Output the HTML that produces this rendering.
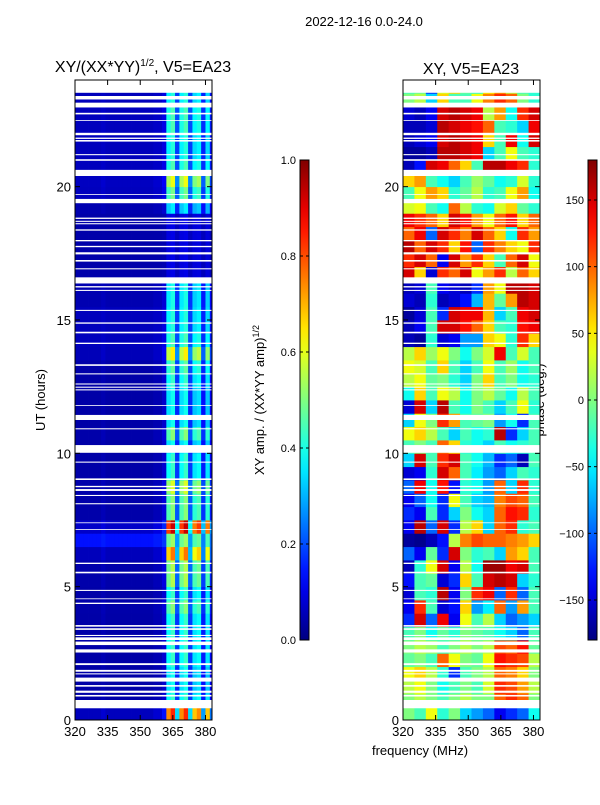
<!DOCTYPE html>
<html><head><meta charset="utf-8"><style>
body{margin:0;background:#fff;}
svg text{font-family:"Liberation Sans",sans-serif;}
</style></head><body>
<svg id="fig" width="600" height="800" xmlns="http://www.w3.org/2000/svg">
<rect x="0" y="0" width="600" height="800" fill="#fff"/>
<text x="364" y="26" font-size="13" text-anchor="middle">2022-12-16 0.0-24.0</text>
<text x="143" y="72" font-size="16" text-anchor="middle">XY/(XX*YY)<tspan font-size="10" dy="-6">1/2</tspan><tspan dy="6">, V5=EA23</tspan></text>
<text x="471" y="74" font-size="16" text-anchor="middle">XY, V5=EA23</text>
<text x="420" y="755" font-size="13" text-anchor="middle">frequency (MHz)</text>
<text transform="translate(45,400) rotate(-90)" font-size="13" text-anchor="middle">UT (hours)</text>
<text transform="translate(264,400) rotate(-90)" font-size="13" text-anchor="middle">XY amp. / (XX*YY amp)<tspan font-size="9" dy="-5">1/2</tspan></text>
<text transform="translate(544,400) rotate(-90)" font-size="13" text-anchor="middle">phase (deg.)</text>
<g id="left"></g><g id="right"></g><g id="cbars"></g>
</svg>
<script>
const freqTicks=[320,335,350,365,380];
const hourTicks=[0,5,10,15,20];
const ampTicks=[0.0,0.2,0.4,0.6,0.8,1.0];
const phaseTicks=[-150,-100,-50,0,50,100,150];
// left amplitude: column profile per 2 MHz bin from 320
const colProfile=[0.01,0.01,0.01,0.01,0.01,0.01,0.02,0.01,0.01,0.01,0.01,0.01,0.01,0.01,0.01,0.01,0.01,0.01,0.02,0.02,0.05,0.35,0.4,0.15,0.35,0.4,0.15,0.32,0.35,0.12,0.32,0.1];
// per 0.5 h row (from 0 h upward)
const rowAmp=[2.0,1.0,0.9,0.9,1.0,1.0,1.0,1.0,1.2,1.0,1.3,1.3,1.8,1.0,2.2,1.2,1.2,1.4,1.0,1.0,0.9,1.2,0.9,0.9,0.9,1.0,1.1,1.5,1.0,0.9,0.9,0.9,0.9,0.15,0.15,0.15,0.15,0.15,0.8,1.1,1.4,1.0,0.9,0.9,1.0,1.0,0.9,0.9];
const rowBase=[0.04,0.03,0.03,0.03,0.03,0.03,0.03,0.03,0.03,0.03,0.03,0.03,0.04,0.13,0.05,0.03,0.03,0.03,0.03,0.03,0.03,0.03,0.03,0.03,0.03,0.03,0.03,0.04,0.05,0.05,0.05,0.04,0.04,0.04,0.04,0.04,0.04,0.04,0.04,0.05,0.05,0.05,0.05,0.05,0.05,0.05,0.05,0.05];
// right phase grid: 48 rows (0.5 h) x 12 cols (~5.25 MHz)
const phaseRows=[
[0,-20,40,-30,0,-60,-80,-100,-140,-120,-100,-40],
[0,20,0,-20,0,20,0,0,100,120,100,0],
[20,40,0,-40,-20,0,-20,30,120,110,80,20],
[40,60,20,-30,-120,-20,0,20,100,90,60,0],
[-10,0,-20,100,40,0,-10,40,130,120,110,20],
[0,20,10,-20,0,20,0,20,110,100,130,-10],
[-20,0,-40,-10,-30,0,-10,-20,-40,-60,-100,-20],
[-120,150,-100,140,-140,40,-20,20,-60,-100,-80,-60],
[-140,120,-20,-150,-130,60,-80,-50,100,-80,80,-20],
[-150,-20,-30,160,-140,0,120,140,-100,120,-100,-20],
[-130,-20,-10,-150,-120,60,-20,150,160,150,-60,-30],
[-160,-30,40,150,-140,20,-40,170,170,140,150,-20],
[-100,-140,-10,-120,150,0,-30,-20,-60,80,60,-20],
[-170,-175,-160,-130,20,90,110,100,100,90,80,60],
[-140,160,-100,150,-120,20,60,-60,100,120,-30,-20],
[-120,-140,-20,-120,-60,0,-40,-60,100,130,120,-30],
[-140,-100,-40,-120,40,-20,-60,-70,90,110,100,-20],
[-100,140,-40,130,-130,-30,-40,-80,100,-60,120,-30],
[-150,-140,-30,150,100,-20,-50,-80,-100,-60,-20,-30],
[-60,150,-20,120,150,-20,-40,-70,-120,-100,-160,-20],
[-20,0,-20,100,60,-30,-40,-60,-20,-40,-30,-20],
[40,60,20,-20,-60,-20,-40,-30,160,-120,-60,-20],
[-60,40,0,120,80,-20,-10,0,-80,-40,-120,-20],
[-150,150,-60,160,-20,-40,0,-20,-60,-20,40,-30],
[-40,60,-20,40,20,-40,0,20,-10,-40,20,-20],
[20,40,-10,0,-30,-60,0,60,-20,0,-40,-30],
[40,30,-20,60,-20,-60,-20,40,-20,10,-40,-20],
[20,60,10,40,0,-40,0,30,140,-20,30,-20],
[-160,-170,-30,-150,-140,-80,-80,60,40,-30,120,60],
[-160,-140,-20,150,150,130,100,60,-20,-30,130,140],
[-170,-150,-20,-120,150,140,140,70,-60,-20,140,150],
[-150,-160,-30,-160,-150,-130,-70,70,-10,80,160,150],
[-160,-150,-20,-140,-150,-160,-120,80,40,160,160,150],
[150,60,-150,120,100,150,40,80,120,20,100,60],
[120,150,100,-140,150,80,120,60,-20,100,150,40],
[160,100,150,120,60,130,-100,120,90,60,40,120],
[100,140,-100,150,120,90,150,100,60,-40,120,80],
[140,120,100,60,150,130,80,40,100,130,60,100],
[30,40,-20,-40,100,20,-30,-40,30,60,-10,-30],
[-20,40,80,60,-30,-10,20,-30,-20,40,80,-40],
[60,80,-20,-40,-60,-20,10,-10,-40,-30,30,-30],
[-160,-130,150,140,100,60,-20,160,160,140,120,-30],
[-170,-170,-160,160,160,150,140,-60,-20,40,-20,-30],
[-160,-150,-140,150,160,150,140,60,-20,140,-40,150],
[-160,-160,-150,160,150,140,130,100,-20,-30,-60,140],
[-150,-160,-140,150,160,150,140,20,80,-40,120,150],
[0,20,-60,60,-20,-20,40,90,120,100,0,-30],
[-20,-10,-120,30,60,-10,-30,50,80,20,-20,-30]];
// flagged (white) time ranges in hours
const flagged=[[23.52,24],[23.27,23.4],[22.97,23.15],[22.71,22.77],[22.47,22.5],[21.93,22.02],[21.79,21.84],[21.69,21.75],[21.18,21.22],[20.97,21.03],[20.4,20.63],[19.69,19.72],[19.38,19.54],[18.79,18.84],[18.68,18.72],[18.59,18.63],[18.35,18.4],[17.95,18.0],[17.73,17.78],[17.46,17.54],[17.19,17.25],[16.9,16.94],[16.37,16.6],[16.22,16.27],[16.09,16.13],[15.34,15.38],[14.86,14.91],[14.5,14.56],[14.1,14.15],[13.28,13.34],[12.96,13.0],[12.58,12.62],[12.46,12.5],[12.36,12.4],[11.78,11.81],[11.25,11.44],[10.9,10.94],[10.02,10.31],[9.65,9.69],[9.0,9.06],[8.73,8.78],[8.59,8.66],[8.4,8.44],[8.09,8.13],[7.38,7.41],[7.13,7.16],[5.85,5.9],[5.5,5.56],[4.84,4.88],[4.53,4.56],[4.35,4.4],[3.5,3.56],[3.38,3.44],[3.15,3.19],[3.0,3.1],[2.81,2.94],[2.53,2.65],[2.06,2.13],[1.81,1.88],[1.71,1.75],[1.44,1.59],[1.25,1.31],[1.02,1.1],[0.88,0.94],[0.44,0.75]];

const NS='http://www.w3.org/2000/svg';
function jet(v){v=Math.max(0,Math.min(1,v));const c=t=>Math.round(255*Math.max(0,Math.min(1,1.5-Math.abs(4*v-t))));return `rgb(${c(3)},${c(2)},${c(1)})`;}
function mk(tag,attrs,parent){const e=document.createElementNS(NS,tag);for(const k in attrs)e.setAttribute(k,attrs[k]);parent.appendChild(e);return e;}
const F0=320,F1=383,H0=0,H1=24,Y0=80,Y1=720,W=137;
function makeX(x0){return f=>x0+(f-F0)*W/(F1-F0);}
const yS=h=>Y1-(h-H0)*(Y1-Y0)/(H1-H0);

function axes(g,x0,name){
  const xS=makeX(x0);
  flagged.forEach(fr=>{const r=mk('rect',{x:x0,y:yS(fr[1]),width:W,height:yS(fr[0])-yS(fr[1]),fill:'#fff'},g);
  
  });
  const fr=mk('rect',{x:x0,y:Y0,width:W,height:Y1-Y0,fill:'none',stroke:'#000','stroke-width':1},g);
  
  
  freqTicks.forEach(f=>{const x=xS(f);
    mk('line',{x1:x,x2:x,y1:Y1,y2:Y1-5,stroke:'#000'},g);
    mk('line',{x1:x,x2:x,y1:Y0,y2:Y0+5,stroke:'#000'},g);
    const t=mk('text',{x:x,y:Y1+16,'font-size':13,'text-anchor':'middle'},g);t.textContent=f;
    
    });
  hourTicks.forEach(h=>{const y=yS(h);
    mk('line',{x1:x0,x2:x0+5,y1:y,y2:y,stroke:'#000'},g);
    mk('line',{x1:x0+W,x2:x0+W-5,y1:y,y2:y,stroke:'#000'},g);
    const t=mk('text',{x:x0-4,y:y+5,'font-size':13,'text-anchor':'end'},g);t.textContent=h;
    
    });
}
// left heatmap
const gl=document.getElementById('left');


{const xS=makeX(75);
rowAmp.forEach((a,r)=>{colProfile.forEach((p,c)=>{
  const f0=F0+c*2,f1=Math.min(F1,f0+2);if(f0>=F1)return;
  const v=rowBase[r]+a*p;
  const e=mk('rect',{x:xS(f0),y:yS(r*0.5+0.5),width:xS(f1)-xS(f0)+0.4,height:yS(r*0.5)-yS(r*0.5+0.5)+0.4,fill:jet(v)},gl);
  
  
});});
axes(gl,75,'left-axes');}
// right heatmap
const gr=document.getElementById('right');


{const xS=makeX(403);const nc=12,bw=(F1-F0)/nc;
phaseRows.forEach((row,r)=>{row.forEach((p,c)=>{
  const f0=F0+c*bw,f1=f0+bw;
  const e=mk('rect',{x:xS(f0),y:yS(r*0.5+0.5),width:xS(f1)-xS(f0)+0.4,height:yS(r*0.5)-yS(r*0.5+0.5)+0.4,fill:jet((p+180)/360)},gr);
  
  
});});
axes(gr,403,'right-axes');}
// colorbars
const gc=document.getElementById('cbars');
const defs=mk('defs',{},gc);const lg=mk('linearGradient',{id:'jetg',x1:0,y1:1,x2:0,y2:0},defs);
for(let i=0;i<=20;i++)mk('stop',{offset:i/20,'stop-color':jet(i/20)},lg);
function cbar(x,ticks,vmin,vmax,name,fmt){
  const r=mk('rect',{x:x,y:160,width:9,height:480,fill:'url(#jetg)',stroke:'#000','stroke-width':1},gc);
  
  
  ticks.forEach(v=>{const y=640-(v-vmin)/(vmax-vmin)*480;
    mk('line',{x1:x,x2:x+3,y1:y,y2:y,stroke:'#000'},gc);
    mk('line',{x1:x+9,x2:x+6,y1:y,y2:y,stroke:'#000'},gc);
    const t=mk('text',{x:x-4,y:y+4,'font-size':11,'text-anchor':'end'},gc);t.textContent=fmt(v);
    
    });
}
cbar(300,ampTicks,0,1,'amp-colorbar',v=>v.toFixed(1));
cbar(588,phaseTicks,-180,180,'phase-colorbar',v=>v<0?'\u2212'+(-v):String(v));
</script>
</body></html>
